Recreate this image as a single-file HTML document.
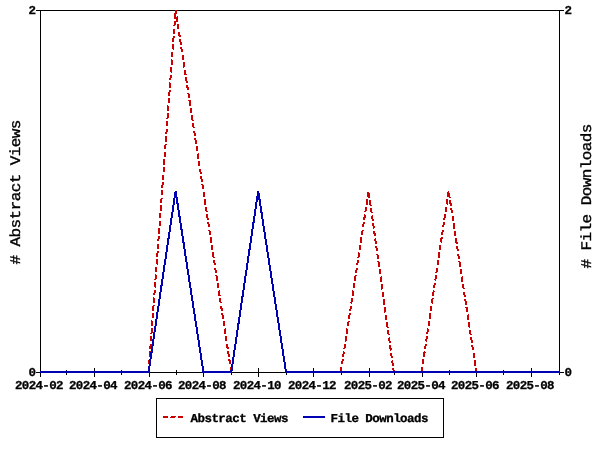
<!DOCTYPE html>
<html lang="en"><head><meta charset="utf-8"><title>Usage statistics</title>
<style>html,body{margin:0;padding:0;background:#fff}svg{display:block;text-rendering:geometricPrecision}.s{font-family:"Liberation Mono","DejaVu Sans Mono",monospace;font-weight:bold;font-size:12.0px;fill:#000;stroke:#000;stroke-width:0.3px}.g{font-family:"Liberation Mono","DejaVu Sans Mono",monospace;font-weight:normal;font-size:14.7px;fill:#000;stroke:#000;stroke-width:0.35px}</style></head><body>
<svg width="600" height="450" viewBox="0 0 600 450">
<rect width="600" height="450" fill="#fff"/>
<g fill="#000" shape-rendering="crispEdges">
<rect x="40" y="10" width="520" height="1"/>
<rect x="40" y="372" width="520" height="1"/>
<rect x="40" y="10" width="1" height="363"/>
<rect x="559" y="10" width="1" height="363"/>
<rect x="36" y="10" width="4" height="1"/>
<rect x="560" y="10" width="4" height="1"/>
<rect x="36" y="372" width="4" height="1"/>
<rect x="560" y="372" width="4" height="1"/>
<rect x="40" y="368" width="1" height="9"/>
<rect x="66" y="370" width="1" height="5"/>
<rect x="94" y="368" width="1" height="9"/>
<rect x="121" y="370" width="1" height="5"/>
<rect x="149" y="368" width="1" height="9"/>
<rect x="176" y="370" width="1" height="5"/>
<rect x="203" y="368" width="1" height="9"/>
<rect x="231" y="370" width="1" height="5"/>
<rect x="258" y="368" width="1" height="9"/>
<rect x="286" y="370" width="1" height="5"/>
<rect x="313" y="368" width="1" height="9"/>
<rect x="341" y="370" width="1" height="5"/>
<rect x="369" y="368" width="1" height="9"/>
<rect x="394" y="370" width="1" height="5"/>
<rect x="422" y="368" width="1" height="9"/>
<rect x="449" y="370" width="1" height="5"/>
<rect x="476" y="368" width="1" height="9"/>
<rect x="503" y="370" width="1" height="5"/>
<rect x="531" y="368" width="1" height="9"/>
<rect x="559" y="370" width="1" height="5"/>
</g>
<polyline points="148.6,372.0 175.6,10.0 203.4,191.0 231.3,372.0" fill="none" stroke="#cc0000" stroke-width="2" stroke-dasharray="5.4 2.3" shape-rendering="crispEdges"/>
<polyline points="340.8,372.0 368.6,191.0 393.8,372.0" fill="none" stroke="#cc0000" stroke-width="2" stroke-dasharray="5.4 2.3" shape-rendering="crispEdges"/>
<polyline points="421.6,372.0 448.6,191.0 476.4,372.0" fill="none" stroke="#cc0000" stroke-width="2" stroke-dasharray="5.4 2.3" shape-rendering="crispEdges"/>
<polyline points="40.0,372.0 66.0,372.0 93.9,372.0 120.8,372.0 148.6,372.0 175.6,191.0 203.4,372.0 231.3,372.0 258.2,191.0 286.0,372.0 313.0,372.0 340.8,372.0 368.6,372.0 393.8,372.0 421.6,372.0 448.6,372.0 476.4,372.0 503.3,372.0 531.2,372.0 559.0,372.0 560,372" fill="none" stroke="#0000b4" stroke-width="2" stroke-linejoin="miter" shape-rendering="crispEdges"/>
<text class="s" transform="translate(28.5,14) scale(1.04,1.0)">2</text>
<text class="s" transform="translate(28.5,376) scale(1.04,1.0)">0</text>
<text class="s" transform="translate(564.5,14) scale(1.04,1.0)">2</text>
<text class="s" transform="translate(564.5,376) scale(1.04,1.0)">0</text>
<text class="s" transform="translate(15,389) scale(1.04,1.0)" textLength="46.64" lengthAdjust="spacing">2024-02</text>
<text class="s" transform="translate(69,389) scale(1.04,1.0)" textLength="46.64" lengthAdjust="spacing">2024-04</text>
<text class="s" transform="translate(124,389) scale(1.04,1.0)" textLength="46.64" lengthAdjust="spacing">2024-06</text>
<text class="s" transform="translate(178,389) scale(1.04,1.0)" textLength="46.64" lengthAdjust="spacing">2024-08</text>
<text class="s" transform="translate(233,389) scale(1.04,1.0)" textLength="46.64" lengthAdjust="spacing">2024-10</text>
<text class="s" transform="translate(288,389) scale(1.04,1.0)" textLength="46.64" lengthAdjust="spacing">2024-12</text>
<text class="s" transform="translate(344,389) scale(1.04,1.0)" textLength="46.64" lengthAdjust="spacing">2025-02</text>
<text class="s" transform="translate(397,389) scale(1.04,1.0)" textLength="46.64" lengthAdjust="spacing">2025-04</text>
<text class="s" transform="translate(451,389) scale(1.04,1.0)" textLength="46.64" lengthAdjust="spacing">2025-06</text>
<text class="s" transform="translate(506,389) scale(1.04,1.0)" textLength="46.64" lengthAdjust="spacing">2025-08</text>
<text class="g" transform="translate(20,264.5) rotate(-90) scale(1.09,1)" textLength="133.0" lengthAdjust="spacing"># Abstract Views</text>
<text class="g" transform="translate(591,268.5) rotate(-90) scale(1.09,1)" textLength="133.0" lengthAdjust="spacing"># File Downloads</text>
<g fill="#000" shape-rendering="crispEdges">
<rect x="156" y="398" width="288" height="1"/><rect x="156" y="437" width="288" height="1"/>
<rect x="156" y="398" width="1" height="40"/><rect x="443" y="398" width="1" height="40"/>
</g>
<g fill="#cc0000" shape-rendering="crispEdges"><rect x="163" y="416" width="5" height="2"/><rect x="171" y="416" width="5" height="1"/><rect x="170" y="417" width="5" height="1"/><rect x="178" y="416" width="5" height="2"/></g>
<rect x="303" y="416" width="22" height="2" fill="#0000b4" shape-rendering="crispEdges"/>
<text class="s" transform="translate(190.5,422) scale(1.04,1.0)" textLength="94.23" lengthAdjust="spacing">Abstract Views</text>
<text class="s" transform="translate(330.5,422) scale(1.04,1.0)" textLength="94.23" lengthAdjust="spacing">File Downloads</text>
</svg></body></html>
